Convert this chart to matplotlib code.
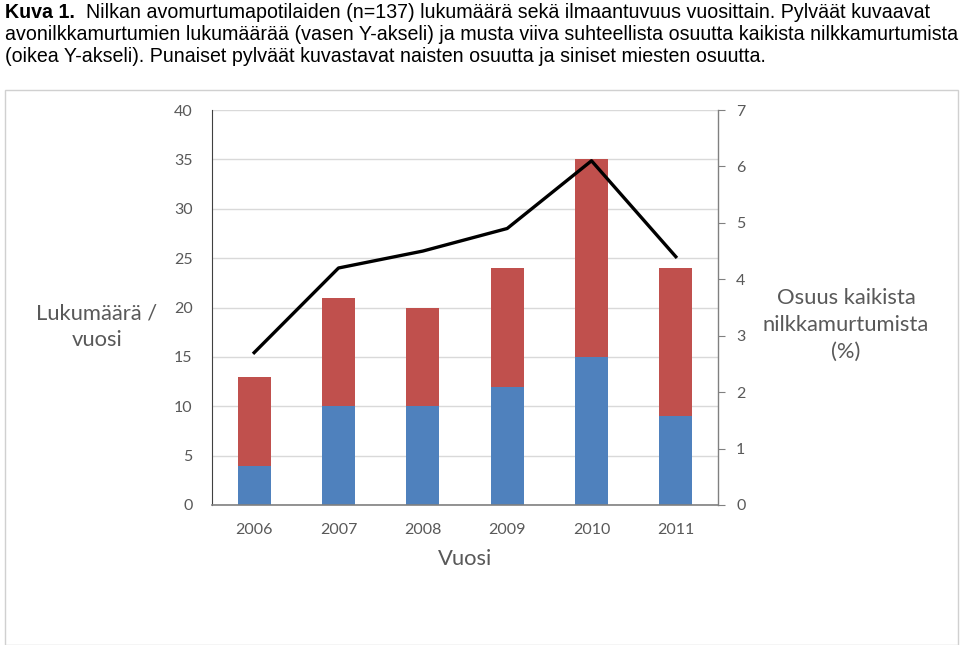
import matplotlib
matplotlib.use("Agg")
import matplotlib.pyplot as plt
from matplotlib.patches import Rectangle

years = ["2006", "2007", "2008", "2009", "2010", "2011"]
men = [4, 10, 10, 12, 15, 9]
women = [9, 11, 10, 12, 20, 15]
share_pct = [2.7, 4.2, 4.5, 4.9, 6.1, 4.4]
left_ticks = [0, 5, 10, 15, 20, 25, 30, 35, 40]
right_ticks = [0, 1, 2, 3, 4, 5, 6, 7]

W, H = 960, 645
fig = plt.figure(figsize=(W / 100, H / 100), dpi=100)

# outer chart border
fig.patches.append(Rectangle((5 / W, 0), 953 / W, 1 - 90 / H, transform=fig.transFigure,
                             fill=False, edgecolor="#d0d0d0", linewidth=1))

# caption
tf = dict(family="Liberation Sans", fontsize=14.1, color="black", va="baseline")
fig.text(5 / W, 1 - 18 / H, "Kuva 1.", fontweight="bold", **tf)
fig.text(86 / W, 1 - 18 / H, "Nilkan avomurtumapotilaiden (n=137) lukumäärä sekä ilmaantuvuus vuosittain. Pylväät kuvaavat", **tf)
fig.text(5 / W, 1 - 40 / H, "avonilkkamurtumien lukumäärää (vasen Y-akseli) ja musta viiva suhteellista osuutta kaikista nilkkamurtumista", **tf)
fig.text(5 / W, 1 - 62 / H, "(oikea Y-akseli). Punaiset pylväät kuvastavat naisten osuutta ja siniset miesten osuutta.", **tf)

ax = fig.add_axes([212 / W, 1 - 505 / H, 506 / W, 395 / H])
x = list(range(len(years)))
ax.bar(x, men, width=0.39, color="#4f81bd", zorder=2)
ax.bar(x, women, width=0.39, bottom=men, color="#c0504d", zorder=2)
ax.set_xlim(-0.5, 5.5)
ax.set_ylim(0, 40)
ax.set_yticks(left_ticks)
ax.set_xticks(x)
ax.set_xticklabels(years)
ax.grid(axis="y", color="#d9d9d9", linewidth=1, zorder=0)
ax.set_axisbelow(True)
for s in ["top", "right"]:
    ax.spines[s].set_visible(False)
ax.spines["left"].set_color("#404040")
ax.spines["left"].set_linewidth(0.8)
ax.spines["bottom"].set_color("#808080")
ax.spines["bottom"].set_linewidth(1.2)
ax.tick_params(axis="y", length=0, labelsize=11.5, labelcolor="#595959", pad=14)
ax.tick_params(axis="x", length=0, labelsize=11.5, labelcolor="#595959", pad=13)
for lab in ax.get_xticklabels() + ax.get_yticklabels():
    lab.set_family("Lato")

ax2 = ax.twinx()
ax2.plot(x, share_pct, color="black", linewidth=2.4, zorder=5)
ax2.set_ylim(0, 7)
ax2.set_yticks(right_ticks)
for s in ["top", "left", "bottom"]:
    ax2.spines[s].set_visible(False)
ax2.spines["right"].set_color("#808080")
ax2.spines["right"].set_linewidth(1)
ax2.tick_params(axis="y", direction="out", length=5, color="#808080", labelsize=11.5,
                labelcolor="#595959", pad=8)
for lab in ax2.get_yticklabels():
    lab.set_family("Lato")

lf = dict(family="Lato", fontsize=15.8, color="#595959", ha="center", va="center", linespacing=1.42)
fig.text(97 / W, 1 - 327 / H, "Lukumäärä /\nvuosi", **lf)
fig.text(846 / W, 1 - 325 / H, "Osuus kaikista\nnilkkamurtumista\n(%)", **lf)
fig.text(465 / W, 1 - 559 / H, "Vuosi", **lf)

fig.savefig("out.png", dpi=100)
